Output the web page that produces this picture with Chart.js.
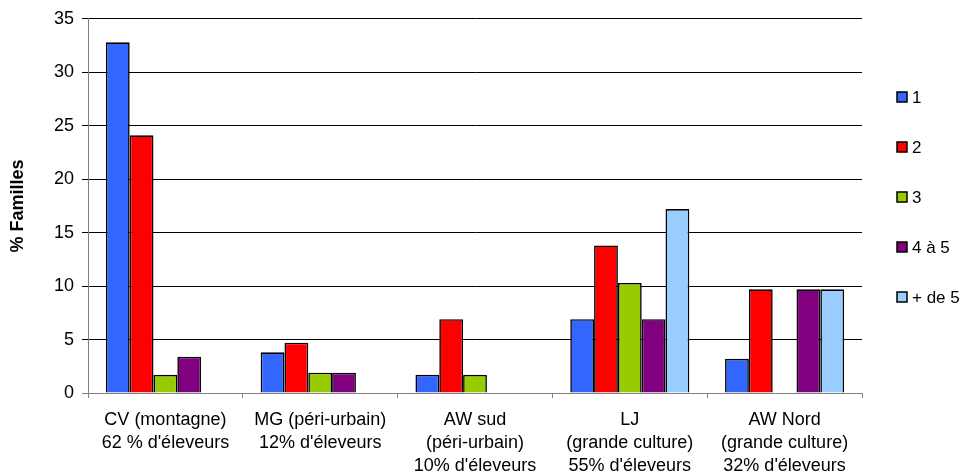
<!DOCTYPE html>
<html>
<head>
<meta charset="utf-8">
<script src="https://cdn.jsdelivr.net/npm/chart.js@4/dist/chart.umd.min.js"></script>
<style>
  html, body { margin: 0; padding: 0; background: #ffffff; }
  #wrap { width: 962px; height: 474px; }
</style>
</head>
<body>
<div id="wrap"><canvas id="c" width="962" height="474"></canvas></div>
<script>
// Zones étudiées (libellés sur plusieurs lignes)
const categories = [
  ["CV (montagne)", "62 % d'éleveurs"],
  ["MG (péri-urbain)", "12% d'éleveurs"],
  ["AW sud", "(péri-urbain)", "10% d'éleveurs"],
  ["LJ", "(grande culture)", "55% d'éleveurs"],
  ["AW Nord", "(grande culture)", "32% d'éleveurs"]
];

// Nombre de personnes par famille
const seriesNames = ["1", "2", "3", "4 à 5", "+ de 5"];

// % de familles par zone
const serie1 = [32.8, 3.8, 1.7, 6.9, 3.2];
const serie2 = [24.1, 4.7, 6.9, 13.8, 9.7];
const serie3 = [1.7, 1.9, 1.7, 10.3, null];
const serie4 = [3.4, 1.9, null, 6.9, 9.7];
const serie5 = [null, null, null, 17.2, 9.7];

const yTicks = [0, 5, 10, 15, 20, 25, 30, 35];

const seriesColors = ["#3366FF", "#FF0000", "#99CC00", "#800080", "#99CCFF"];
const seriesValues = [serie1, serie2, serie3, serie4, serie5];

const FONT = "'Liberation Sans', Arial, sans-serif";

// Légende à droite, une entrée par série
const sideLegend = {
  id: 'sideLegend',
  afterDraw(chart) {
    const ctx = chart.ctx;
    ctx.save();
    ctx.font = "17px " + FONT;
    ctx.textBaseline = 'middle';
    ctx.textAlign = 'left';
    chart.data.datasets.forEach((ds, i) => {
      const cy = 97 + i * 50;
      ctx.fillStyle = ds.backgroundColor;
      ctx.fillRect(897, cy - 5, 10, 10);
      ctx.strokeStyle = '#000000';
      ctx.lineWidth = 1.5;
      ctx.strokeRect(897, cy - 5, 10, 10);
      ctx.fillStyle = '#000000';
      ctx.fillText(ds.label, 912, cy + 1);
    });
    ctx.restore();
  }
};

new Chart(document.getElementById('c'), {
  type: 'bar',
  data: {
    labels: categories,
    datasets: seriesNames.map((name, i) => ({
      label: name,
      data: seriesValues[i],
      backgroundColor: seriesColors[i],
      borderColor: '#000000',
      borderWidth: 1.6,
      categoryPercentage: 5 / 6.5,
      barPercentage: 1.0
    }))
  },
  options: {
    responsive: false,
    devicePixelRatio: 1,
    animation: false,
    layout: { padding: { left: 0, top: 18, right: 100, bottom: 0 } },
    plugins: {
      legend: { display: false },
      tooltip: { enabled: false }
    },
    scales: {
      x: {
        offset: true,
        grid: {
          offset: true,
          drawOnChartArea: false,
          drawTicks: true,
          tickLength: 5,
          color: '#808080'
        },
        border: { color: '#808080', width: 1 },
        ticks: {
          color: '#000000',
          font: { family: FONT, size: 18, lineHeight: 1.3 },
          padding: 10,
          maxRotation: 0,
          autoSkip: false
        },
        afterFit(scale) { scale.height = 81; }
      },
      y: {
        min: 0,
        max: 35,
        afterBuildTicks(scale) { scale.ticks = yTicks.map(v => ({ value: v })); },
        grid: {
          color: ctx => (ctx.tick && ctx.tick.value === 0) ? '#808080' : '#000000',
          tickLength: 6,
          lineWidth: 1
        },
        border: { color: '#808080', width: 1 },
        ticks: {
          color: '#000000',
          font: { family: FONT, size: 18 },
          padding: 8
        },
        title: {
          display: true,
          text: '% Familles',
          color: '#000000',
          font: { family: FONT, size: 18, weight: 'bold' },
          padding: { top: 7, bottom: 0 }
        },
        afterFit(scale) { scale.width = 88; }
      }
    }
  },
  plugins: [sideLegend]
});
</script>
</body>
</html>
